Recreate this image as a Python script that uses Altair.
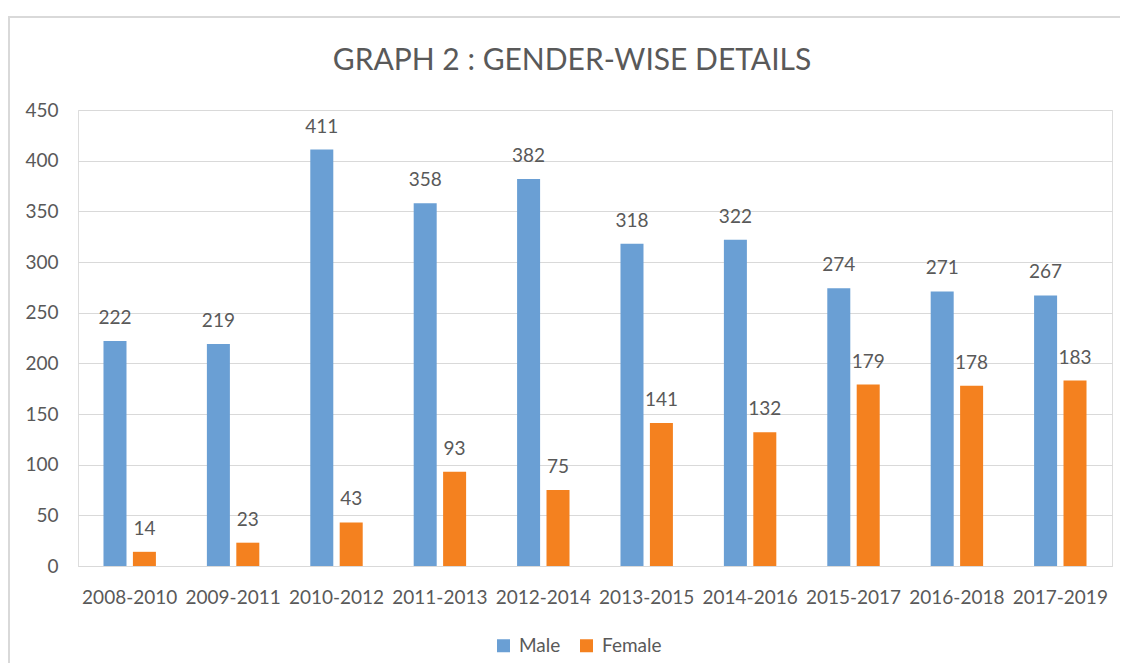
import altair as alt
import pandas as pd

periods = ["2008-2010", "2009-2011", "2010-2012", "2011-2013", "2012-2014",
           "2013-2015", "2014-2016", "2015-2017", "2016-2018", "2017-2019"]
male = [222, 219, 411, 358, 382, 318, 322, 274, 271, 267]
female = [14, 23, 43, 93, 75, 141, 132, 179, 178, 183]
genders = ["Male", "Female"]
colors = ["#6A9FD4", "#F4811F"]
y_ticks = [0, 50, 100, 150, 200, 250, 300, 350, 400, 450]

rows = []
for p, m, f in zip(periods, male, female):
    rows.append({"period": p, "gender": "Male", "value": m})
    rows.append({"period": p, "gender": "Female", "value": f})
df = pd.DataFrame(rows)

FONT = "Lato"
GRAY = "#595959"

base = alt.Chart(df).encode(
    x=alt.X("period:N", sort=periods, title=None,
            scale=alt.Scale(paddingInner=0.493, paddingOuter=0.2465),
            axis=alt.Axis(labelAngle=0, labelFontSize=19, labelColor=GRAY, labelFont=FONT,
                          labelPadding=22, ticks=False, domain=True, domainColor="#D9D9D9",
                          domainWidth=1, grid=False)),
    xOffset=alt.XOffset("gender:N", sort=genders,
                        scale=alt.Scale(paddingInner=0.218, paddingOuter=0)),
    y=alt.Y("value:Q", title=None,
            scale=alt.Scale(domain=[0, 450], nice=False),
            axis=alt.Axis(values=y_ticks, labelFontSize=19, labelColor=GRAY, labelFont=FONT,
                          labelPadding=20, ticks=False, domain=False, grid=True,
                          gridColor="#D9D9D9", gridWidth=1)),
)

bars = base.mark_bar().encode(
    color=alt.Color("gender:N", sort=genders,
                    scale=alt.Scale(domain=genders, range=colors),
                    legend=alt.Legend(title=None, orient="none", legendX=416, legendY=526,
                                      direction="horizontal", symbolType="square",
                                      symbolSize=169, symbolStrokeWidth=0,
                                      labelFontSize=19, labelColor=GRAY, labelFont=FONT,
                                      labelOffset=6, columnPadding=16))
)

labels = base.mark_text(baseline="alphabetic", dy=-17, fontSize=19, color=GRAY, font=FONT).encode(
    text=alt.Text("value:Q")
)

frame_src = alt.Data(values=[{"k": 0}])
frame_top = alt.Chart(frame_src).mark_rule(color="#D9D9D9", strokeWidth=2).encode(
    x=alt.value(-70), x2=alt.value(1050), y=alt.value(-93)
)
frame_left = alt.Chart(frame_src).mark_rule(color="#D9D9D9", strokeWidth=2).encode(
    x=alt.value(-69), y=alt.value(-94), y2=alt.value(560)
)

chart = alt.layer(frame_top, frame_left, bars, labels).properties(
    width=1034,
    height=456,
    title=alt.TitleParams("GRAPH 2 : GENDER-WISE DETAILS", fontSize=30, color=GRAY, font=FONT,
                          fontWeight="normal", anchor="middle", dx=-23, offset=-61),
    autosize=alt.AutoSizeParams(type="none"),
    padding={"left": 70, "top": 102, "right": 8, "bottom": 97},
).configure_view(stroke=None).configure(background="white")

chart.save("out.html", embed_options={"renderer": "svg", "actions": False})
